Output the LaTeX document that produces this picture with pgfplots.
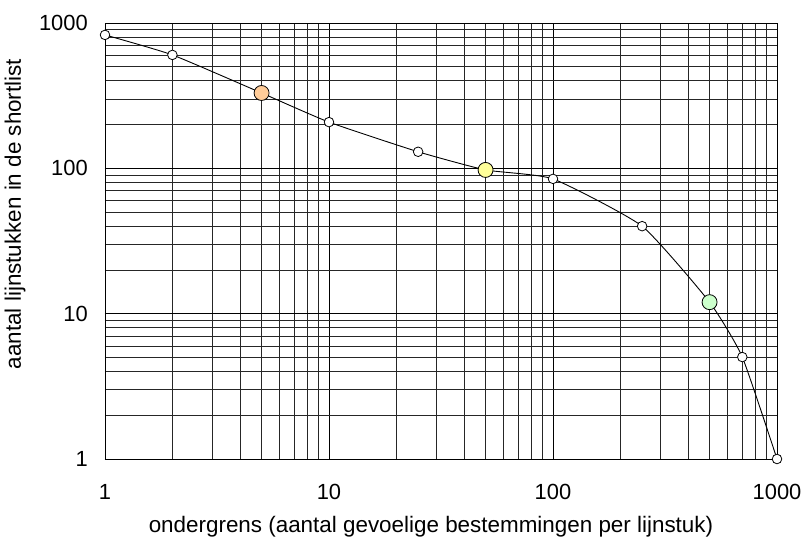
\documentclass[border=0pt]{standalone}
\usepackage{pgfplots}
\pgfplotsset{compat=1.18}
\usepackage{fontspec}
\setmainfont{Liberation Sans}
\definecolor{peach}{HTML}{FFCC99}
\definecolor{lyellow}{HTML}{FFFF99}
\definecolor{lgreen}{HTML}{CCFFCC}
\begin{document}
\begin{tikzpicture}
\begin{axis}[
  scale only axis, width=672bp, height=436bp,
  xmode=log, ymode=log,
  xmin=1, xmax=1000, ymin=1, ymax=1000,
  grid=both,
  major grid style={black, line width=0.7pt},
  minor grid style={black!85, line width=0.7pt},
  axis line style={black, line width=0.7pt},
  major tick length=0pt, minor tick length=0pt,
  xtick={1,10,100,1000}, ytick={1,10,100,1000},
  xticklabels={1,10,100,1000}, yticklabels={1,10,100,1000},
  tick label style={font=\fontsize{22}{26}\selectfont, inner sep=0pt},
  xticklabel style={anchor=base, yshift=-40bp},
  yticklabel style={anchor=east, xshift=-17bp},
  label style={font=\fontsize{22.5}{27}\selectfont, inner sep=0pt},
  xlabel={ondergrens (aantal gevoelige bestemmingen per lijnstuk)},
  ylabel={aantal lijnstukken in de shortlist},
  xlabel style={at={(axis description cs:0.5,0)}, anchor=base, yshift=-73bp, xshift=-10bp},
  ylabel style={at={(axis description cs:0,0.5)}, anchor=center, xshift=27bp, yshift=90bp},
  clip=false,
]
\addplot[black, line width=0.9pt, smooth, tension=0.3, mark=*, mark size=4.8bp,
  mark options={fill=white, line width=0.8pt}] coordinates {
  (1,828) (2,603) (5,330) (10,208) (25,130) (50,97.5) (100,84.6) (250,40) (500,12) (700,5.03) (1000,1)
};
\addplot[only marks, mark=*, mark size=7.5bp, mark options={fill=peach, draw=black, line width=0.8pt}] coordinates {(5,330)};
\addplot[only marks, mark=*, mark size=7.5bp, mark options={fill=lyellow, draw=black, line width=0.8pt}] coordinates {(50,97.5)};
\addplot[only marks, mark=*, mark size=7.5bp, mark options={fill=lgreen, draw=black, line width=0.8pt}] coordinates {(500,12)};
\end{axis}
\pgfresetboundingbox
\path (current axis.south west) ++(-105bp,-79bp) coordinate (bl);
\path (current axis.north east) ++(26bp,23bp) coordinate (tr);
\useasboundingbox (bl) rectangle (tr);
\end{tikzpicture}
\end{document}
